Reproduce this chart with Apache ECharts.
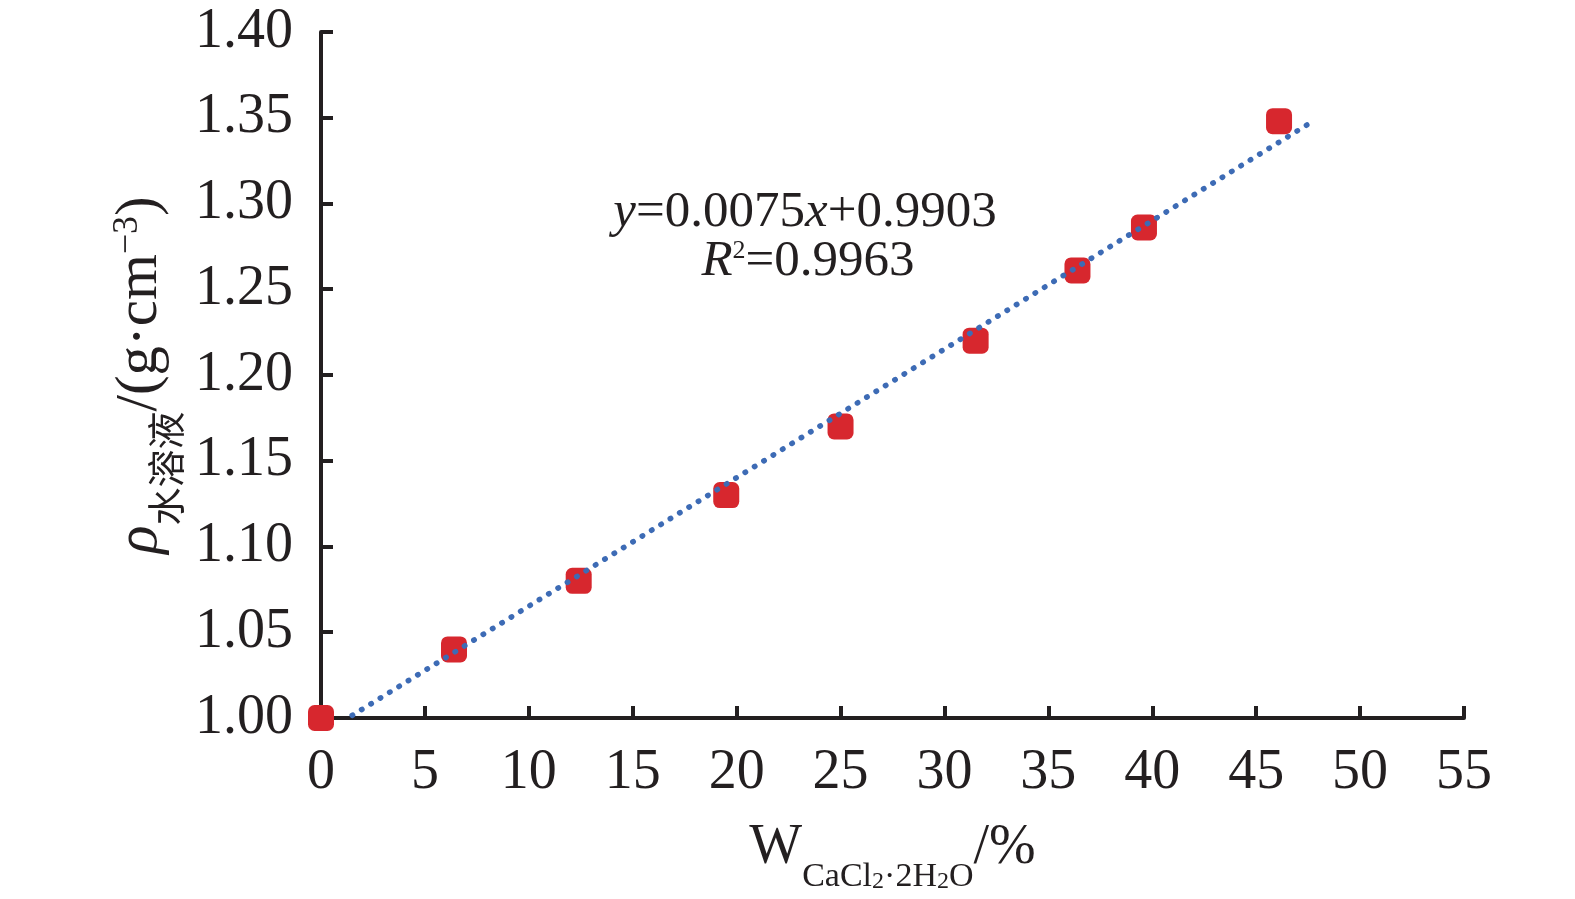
<!DOCTYPE html>
<html>
<head>
<meta charset="utf-8">
<script src="https://cdn.jsdelivr.net/npm/echarts@6/dist/echarts.min.js"></script>
<style>
  html, body { margin: 0; padding: 0; background: #fff; }
  #chart { width: 1575px; height: 899px; }
</style>
</head>
<body>
<div id="chart"></div>
<script>
// measured points: CaCl2·2H2O mass fraction (%) vs solution density
var massPct = [0, 6.4, 12.4, 19.5, 25.0, 31.5, 36.4, 39.6, 46.1];
var density = [1.000, 1.040, 1.080, 1.130, 1.170, 1.220, 1.261, 1.286, 1.348];

// ends of the dotted trend line
var trendX = [1.5, 47.6];
var trendY = [1.0015, 1.347];

var eqLine1 = ['y', '=0.0075', 'x', '+0.9903'];
var eqLine2 = ['R', '2', '=0.9963'];

var serif = 'Liberation Serif';
var ink = '#231f20';

var points = massPct.map(function (x, i) { return [x, density[i]]; });
var trend = trendX.map(function (x, i) { return [x, trendY[i]]; });

var chart = echarts.init(document.getElementById('chart'));

// rich tokens are centred on the line; padding top pushes a token down,
// padding bottom lifts it (by half the padding)
var option = {
    backgroundColor: '#ffffff',
    animation: false,
    grid: { left: 321, right: 111, top: 32, bottom: 181 },
    xAxis: {
        type: 'value',
        min: 0, max: 55, interval: 5,
        splitLine: { show: false },
        axisLine: { lineStyle: { color: ink, width: 4 } },
        axisTick: { inside: true, length: 12, lineStyle: { color: ink, width: 4 } },
        axisLabel: { color: ink, fontFamily: serif, fontSize: 56, margin: 27 },
        name: '{W|W}{s|CaCl}{s2|2}{s|·2H}{s2|2}{s|O}{m|/%}',
        nameLocation: 'middle',
        nameGap: 84,
        nameTextStyle: {
            rich: {
                W: { fontFamily: serif, fontSize: 56, color: ink },
                m: { fontFamily: serif, fontSize: 56, color: ink },
                s: { fontFamily: serif, fontSize: 34, color: ink, padding: [58, 0, 0, 0] },
                s2: { fontFamily: serif, fontSize: 24, color: ink, padding: [67, 0, 0, 0] }
            }
        }
    },
    yAxis: {
        type: 'value',
        min: 1, max: 1.4, interval: 0.05,
        splitLine: { show: false },
        axisLine: { onZero: false, lineStyle: { color: ink, width: 4 } },
        axisTick: { inside: true, length: 12, lineStyle: { color: ink, width: 4 } },
        axisLabel: {
            color: ink, fontFamily: serif, fontSize: 56, margin: 28,
            formatter: function (v) { return v.toFixed(2); }
        },
        name: '{r|ρ}{c|水溶液}{m|/(g·cm}{u|−3}{m|)}',
        nameLocation: 'middle',
        nameRotate: 90,
        nameGap: 116,
        nameTextStyle: {
            rich: {
                r: { fontFamily: serif, fontStyle: 'italic', fontSize: 59, color: ink },
                m: { fontFamily: serif, fontSize: 59, color: ink },
                c: { fontFamily: 'Noto Sans CJK SC', fontSize: 38, color: ink, padding: [50, 0, 0, 0] },
                u: { fontFamily: serif, fontSize: 36, color: ink, padding: [0, 0, 26, 0] }
            }
        }
    },
    graphic: [
        {
            type: 'text', x: 805, y: 213,
            style: {
                text: '{i|' + eqLine1[0] + '}{n|' + eqLine1[1] + '}{i|' + eqLine1[2] + '}{n|' + eqLine1[3] + '}',
                align: 'center', verticalAlign: 'middle',
                rich: {
                    i: { fontFamily: serif, fontStyle: 'italic', fontSize: 51, fill: ink },
                    n: { fontFamily: serif, fontSize: 51, fill: ink }
                }
            }
        },
        {
            type: 'text', x: 808, y: 262,
            style: {
                text: '{i|' + eqLine2[0] + '}{u|' + eqLine2[1] + '}{n|' + eqLine2[2] + '}',
                align: 'center', verticalAlign: 'middle',
                rich: {
                    i: { fontFamily: serif, fontStyle: 'italic', fontSize: 51, fill: ink },
                    u: { fontFamily: serif, fontSize: 26, fill: ink, padding: [0, 0, 22, 0] },
                    n: { fontFamily: serif, fontSize: 51, fill: ink }
                }
            }
        }
    ],
    series: [
        {
            name: 'density',
            type: 'scatter',
            data: points,
            symbol: 'roundRect',
            symbolSize: 26,
            itemStyle: { color: '#d7272e', opacity: 1 },
            z: 2
        },
        {
            name: 'trend',
            type: 'line',
            data: trend,
            symbol: 'none',
            lineStyle: { color: '#3d6bb5', width: 5.5, type: [0.5, 10.5], cap: 'round' },
            z: 3
        }
    ]
};

chart.setOption(option);
</script>
</body>
</html>
